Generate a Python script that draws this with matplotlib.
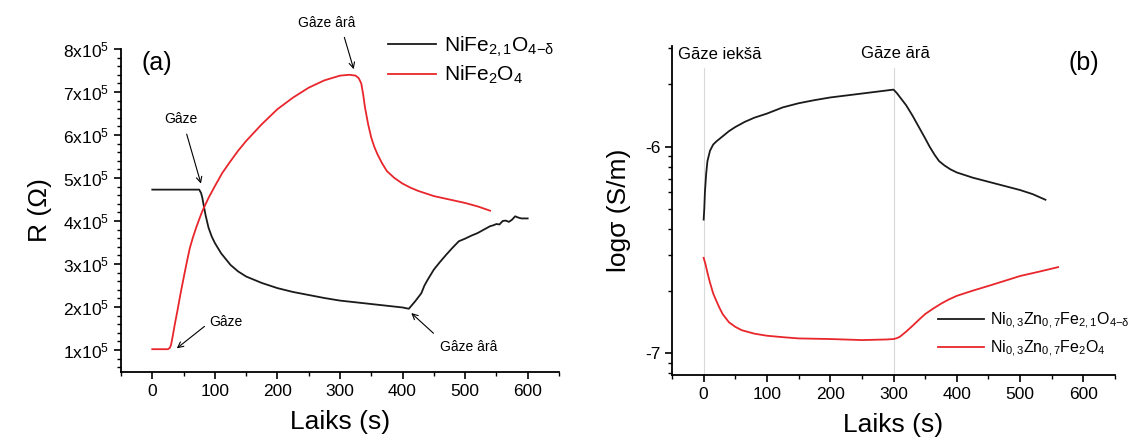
import numpy as np
import matplotlib
matplotlib.use('Agg')
import matplotlib.pyplot as plt
from matplotlib.ticker import AutoMinorLocator, FixedLocator, FuncFormatter

plt.rcParams['font.family'] = ['Liberation Sans', 'DejaVu Sans']
plt.rcParams['mathtext.fontset'] = 'custom'
plt.rcParams['mathtext.rm'] = 'Liberation Sans'
plt.rcParams['mathtext.it'] = 'Liberation Sans:italic'
plt.rcParams['mathtext.bf'] = 'Liberation Sans:bold'

# (a) resistance, values in units of 1e5 Ohm
t_a_black = [0, 75, 78, 80, 82, 85, 88, 90, 95, 100, 110, 125, 137, 150, 175, 200, 225, 250, 275, 300,
             325, 350, 375, 400, 410, 420, 430, 435, 440, 450, 460, 470, 480, 490, 500, 510, 520, 530,
             540, 545, 550, 555, 560, 565, 570, 575, 580, 585, 590, 600]
r_a_black = [4.73, 4.73, 4.65, 4.54, 4.38, 4.15, 3.96, 3.84, 3.64, 3.49, 3.25, 2.98, 2.83, 2.71, 2.56,
             2.44, 2.35, 2.28, 2.21, 2.15, 2.11, 2.07, 2.03, 1.99, 1.96, 2.13, 2.32, 2.5, 2.63, 2.87,
             3.05, 3.22, 3.38, 3.53, 3.59, 3.66, 3.72, 3.8, 3.88, 3.9, 3.93, 3.92, 4.0, 4.01, 3.98,
             4.03, 4.11, 4.08, 4.06, 4.06]
t_a_red = [0, 25, 28, 30, 33, 36, 40, 45, 50, 55, 60, 65, 70, 75, 80, 90, 100, 112, 125, 137, 150, 175,
           200, 225, 250, 275, 300, 315, 325, 330, 334, 337, 340, 345, 350, 355, 360, 367, 375, 387,
           400, 412, 425, 450, 475, 500, 520, 540]
r_a_red = [1.02, 1.02, 1.05, 1.12, 1.35, 1.6, 1.9, 2.3, 2.67, 3.03, 3.37, 3.62, 3.84, 4.04, 4.23, 4.54,
           4.81, 5.12, 5.39, 5.63, 5.86, 6.25, 6.6, 6.87, 7.1, 7.27, 7.38, 7.4, 7.38, 7.32, 7.2, 6.95,
           6.64, 6.25, 5.94, 5.72, 5.55, 5.35, 5.16, 5.0, 4.87, 4.78, 4.7, 4.58, 4.5, 4.42, 4.34, 4.24]

# (b) log conductivity
t_b_black = [0, 1, 2, 4, 6, 10, 15, 20, 30, 40, 50, 65, 80, 100, 125, 150, 175, 200, 250, 300, 305,
             320, 330, 340, 350, 357, 365, 372, 380, 390, 400, 425, 450, 475, 500, 520, 540]
s_b_black = [-6.353, -6.3, -6.22, -6.13, -6.07, -6.02, -5.99, -5.975, -5.95, -5.925, -5.905, -5.88,
             -5.86, -5.84, -5.81, -5.79, -5.775, -5.762, -5.743, -5.724, -5.74, -5.8, -5.85, -5.905,
             -5.96, -6.0, -6.04, -6.07, -6.09, -6.11, -6.125, -6.15, -6.17, -6.19, -6.21, -6.23, -6.257]
t_b_red = [0, 3, 6, 10, 15, 20, 25, 30, 35, 40, 50, 60, 80, 100, 125, 150, 200, 250, 290, 300, 305,
           310, 320, 330, 340, 350, 362, 375, 387, 400, 425, 450, 475, 500, 530, 560]
s_b_red = [-6.538, -6.57, -6.61, -6.658, -6.71, -6.746, -6.78, -6.81, -6.83, -6.85, -6.872, -6.888,
           -6.905, -6.915, -6.922, -6.928, -6.931, -6.936, -6.933, -6.931, -6.927, -6.92, -6.895,
           -6.867, -6.838, -6.81, -6.785, -6.76, -6.74, -6.722, -6.697, -6.674, -6.65, -6.626,
           -6.605, -6.583]

black = '#1a1a1a'
red = '#e8262b'

fig = plt.figure(figsize=(11.34, 4.42), dpi=100)
ax1 = fig.add_axes([0.1067, 0.1584, 0.3862, 0.7308])
ax2 = fig.add_axes([0.5926, 0.1516, 0.3907, 0.7443])

for ax in (ax1, ax2):
    ax.spines['top'].set_visible(False)
    ax.spines['right'].set_visible(False)
    ax.spines['left'].set_linewidth(1.3)
    ax.spines['bottom'].set_linewidth(1.3)
    ax.tick_params(which='major', direction='out', length=5, width=1.2, labelsize=12.5)
    ax.tick_params(which='minor', direction='out', length=3, width=1.0)
    ax.set_xlim(-50, 650)
    ax.set_xticks([0, 100, 200, 300, 400, 500, 600])
    ax.xaxis.set_minor_locator(AutoMinorLocator(2))

# ---- panel (a)
ax1.plot(t_a_black, np.array(r_a_black) * 1e5, color=black, lw=1.3, label='NiFe$_{2,1}$O$_{4\\mathrm{-δ}}$')
ax1.plot(t_a_red, np.array(r_a_red) * 1e5, color=red, lw=1.3, label='NiFe$_2$O$_4$')
ax1.set_ylim(0.49e5, 8e5)
ax1.set_yticks([1e5, 2e5, 3e5, 4e5, 5e5, 6e5, 7e5, 8e5])
ax1.yaxis.set_major_formatter(FuncFormatter(lambda v, p: f'{v / 1e5:.0f}x10$^5$'))
ax1.yaxis.set_minor_locator(AutoMinorLocator(5))
ax1.set_xlabel('Laiks (s)', fontsize=19, labelpad=8)
ax1.set_ylabel('R (Ω)', fontsize=19, labelpad=8)
ax1.text(8, 7.68e5, '(a)', fontsize=18, ha='center', va='center')
ax1.legend(loc='upper left', bbox_to_anchor=(0.59, 1.07), frameon=False, fontsize=15,
           handlelength=2.3, handletextpad=0.4, labelspacing=0.25, borderaxespad=0)

note = dict(fontsize=10, ha='center', va='center')
arrow = dict(arrowstyle='->', lw=0.8, color='k', shrinkA=0, shrinkB=0)
ax1.text(279, 8.61e5, 'Gâze ârâ', clip_on=False, **note)
ax1.annotate('', xy=(322, 7.53e5), xytext=(307, 8.27e5), arrowprops=arrow, annotation_clip=False)
ax1.text(46.5, 6.37e5, 'Gâze', **note)
ax1.annotate('', xy=(77.8, 4.87e5), xytext=(55, 6.02e5), arrowprops=arrow)
ax1.text(117.5, 1.66e5, 'Gâze', **note)
ax1.annotate('', xy=(39.2, 1.04e5), xytext=(83.4, 1.55e5), arrowprops=arrow)
ax1.text(506, 1.08e5, 'Gâze ârâ', **note)
ax1.annotate('', xy=(414, 1.86e5), xytext=(449.5, 1.39e5), arrowprops=arrow)

# ---- panel (b)
ax2.set_ylim(-7.105, -5.513)
ax2.plot([0, 0], [-7.105, -5.62], color='#d9d9d9', lw=0.8)
ax2.plot([300, 300], [-7.105, -5.62], color='#d9d9d9', lw=0.8)
ax2.plot(t_b_black, s_b_black, color=black, lw=1.3, label='Ni$_{0,3}$Zn$_{0,7}$Fe$_{2,1}$O$_{4\\mathrm{-δ}}$')
ax2.plot(t_b_red, s_b_red, color=red, lw=1.3, label='Ni$_{0,3}$Zn$_{0,7}$Fe$_2$O$_4$')
ax2.set_yticks([-7, -6])
ax2.set_yticklabels(['-7', '-6'])
minor = [n + np.log10(k) for n in (-8, -7, -6) for k in range(2, 10)]
minor = [m for m in minor if -7.105 <= m <= -5.513]
ax2.yaxis.set_minor_locator(FixedLocator(minor))
ax2.set_xlabel('Laiks (s)', fontsize=19, labelpad=8)
ax2.set_ylabel('logσ (S/m)', fontsize=19, labelpad=10)
ax2.text(601, -5.595, '(b)', fontsize=18, ha='center', va='center')
ax2.text(-41, -5.556, 'Gāze iekšā', fontsize=12, ha='left', va='center')
ax2.text(303, -5.547, 'Gāze ārā', fontsize=12, ha='center', va='center')
ax2.legend(loc='lower left', bbox_to_anchor=(0.585, 0.03), frameon=False, fontsize=11.5,
           handlelength=2.9, handletextpad=0.4, labelspacing=0.45, borderaxespad=0)

fig.savefig('out.png', dpi=100)
